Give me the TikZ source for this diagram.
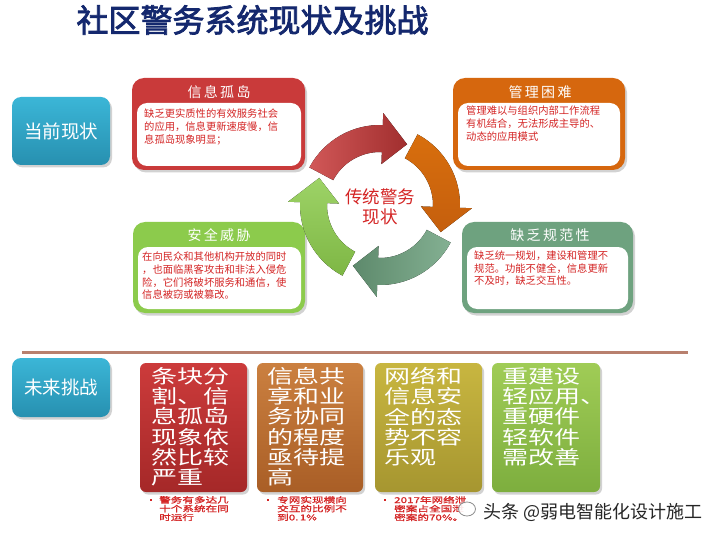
\documentclass[tikz,border=0pt]{standalone}
\usepackage{fontspec}
\usetikzlibrary{shadows,shapes.geometric}
\newfontfamily\cjk{Noto Sans CJK SC}
\newfontfamily\cjkbold[FakeBold=2.5]{Noto Sans CJK SC}
\newfontfamily\cjkwide[FakeStretch=1.37]{Noto Sans CJK SC}
\newfontfamily\cjknote[FakeStretch=1.45,FakeBold=1.2]{Noto Sans CJK SC}
\definecolor{navy}{HTML}{14286E}
\definecolor{tealT}{HTML}{3BB6D7}
\definecolor{tealB}{HTML}{2790B0}
\definecolor{sep}{HTML}{B8806E}
\definecolor{cRed}{HTML}{C93A3A}
\definecolor{cOrange}{HTML}{D6670E}
\definecolor{cLgreen}{HTML}{8CCB4C}
\definecolor{cGgreen}{HTML}{6EA27F}
\definecolor{txtRed}{HTML}{D42525}
\definecolor{bRedT}{HTML}{CC3B3B}
\definecolor{bRedB}{HTML}{A52828}
\definecolor{bOrT}{HTML}{CB8040}
\definecolor{bOrB}{HTML}{A95E26}
\definecolor{bOlT}{HTML}{C8B640}
\definecolor{bOlB}{HTML}{A69630}
\definecolor{bGrT}{HTML}{A0CC56}
\definecolor{bGrB}{HTML}{7DAE3E}
\newcommand\cyclearrow[2]{%
  \fill[#2] ({#1+86}:80) arc[start angle={#1+86}, end angle={#1+22}, radius=80]
    -- ({#1+22}:92) -- ({#1}:66.5) -- ({#1+22}:41) -- ({#1+22}:53)
    arc[start angle={#1+22}, end angle={#1+86}, radius=53] -- cycle;}
\begin{document}
\begin{tikzpicture}[x=1pt,y=-1pt,
  shad/.style={drop shadow={opacity=0.35,shadow xshift=2pt,shadow yshift=-2.5pt}},
  label/.style={shad,rounded corners=9pt,top color=tealT,bottom color=tealB,draw=none,
    inner sep=0pt,text=white,font=\cjk\fontsize{18.5}{20}\selectfont},
  infobox/.style={shad,rounded corners=12pt,draw=none,inner sep=0pt,minimum width=172pt,minimum height=92pt},
  innerbox/.style={rounded corners=10pt,fill=white,draw=none,inner sep=0pt},
  boxtitle/.style={text=white,font=\cjk\fontsize{14}{16}\selectfont,inner sep=0pt},
  boxtext/.style={anchor=north west,align=left,inner sep=0pt,text=txtRed,font=\cjk\fontsize{10.3}{12.8}\selectfont},
  bigbox/.style={shad,rounded corners=6pt,draw=none,inner sep=0pt,minimum height=129pt},
  bigtext/.style={anchor=north west,align=left,inner sep=0pt,text=white,font=\cjkwide\fontsize{19}{20.3}\selectfont},
  note/.style={anchor=north west,align=left,inner sep=0pt,text=txtRed,font=\cjknote\fontsize{8}{8.7}\selectfont},
  dot/.style={rectangle,fill=txtRed,inner sep=0pt,minimum size=2.6pt}]
\useasboundingbox (0,0) rectangle (722,537);
\fill[white] (0,0) rectangle (722,537);

% title
\node[text=navy,font=\cjkbold\fontsize{32}{34}\selectfont,inner sep=0pt] (title) at (252.5,20) {社区警务系统现状及挑战};

% left labels
\node[label,minimum width=98pt,minimum height=68pt] (now) at (61,131) {当前现状};
\node[label,minimum width=98pt,minimum height=59pt] (future) at (61,387.5) {未来挑战};

% separator
\coordinate (s1) at (22,352);
\coordinate (s2) at (688,352);
\draw[sep,line width=3pt] (s1) -- (s2);

% info boxes
\node[infobox,fill=cRed,minimum width=173pt] (b1) at (218.5,124) {};
\node[innerbox,minimum width=164pt,minimum height=63pt] (i1) at (219,134.5) {};
\node[boxtitle] (h1) at (219,92) {信\,息\,孤\,岛};
\node[boxtext] (t1) at (144,108.5) {缺乏更实质性的有效服务社会\\的应用，信息更新速度慢，信\\息孤岛现象明显；};

\node[infobox,fill=cOrange] (b2) at (539,124) {};
\node[innerbox,minimum width=162pt,minimum height=63pt] (i2) at (539,134.5) {};
\node[boxtitle] (h2) at (540,92) {管\,理\,困\,难};
\node[boxtext] (t2) at (466,106) {管理难以与组织内部工作流程\\有机结合，无法形成主导的、\\动态的应用模式};

\node[infobox,fill=cLgreen,minimum height=91pt] (b3) at (219,267.5) {};
\node[innerbox,minimum width=163pt,minimum height=62pt] (i3) at (219.5,278) {};
\node[boxtitle] (h3) at (219,235) {安\,全\,威\,胁};
\node[boxtext] (t3) at (142,251.5) {在向民众和其他机构开放的同时\\，也面临黑客攻击和非法入侵危\\险，它们将破坏服务和通信，使\\信息被窃或被篡改。};

\node[infobox,fill=cGgreen,minimum width=171pt,minimum height=91pt] (b4) at (547.5,267.5) {};
\node[innerbox,minimum width=161pt,minimum height=62pt] (i4) at (547.5,278) {};
\node[boxtitle] (h4) at (550,235) {缺\,乏\,规\,范\,性};
\node[boxtext] (t4) at (474,250.5) {缺乏统一规划，建设和管理不\\规范。功能不健全，信息更新\\不及时，缺乏交互性。};

% cycle
\begin{scope}[shift={(380,205)},yscale=-1]
  \cyclearrow{66}{left color=cRed!85!white,right color=cRed!80!black}
  \cyclearrow{-24}{top color=cOrange!95!yellow,bottom color=cOrange!92!black}
  \cyclearrow{-114}{right color=cGgreen!85!white,left color=cGgreen!85!black}
  \cyclearrow{156}{bottom color=cLgreen!90!black,top color=cLgreen!85!white}
\end{scope}
\node[align=center,text=txtRed,font=\cjk\fontsize{17.5}{20}\selectfont,inner sep=0pt] (center) at (380,207) {传统警务\\现状};

% challenge boxes
\node[bigbox,minimum width=107pt,top color=bRedT,bottom color=bRedB] (c1) at (193.5,427.5) {};
\node[bigtext] (ct1) at (151,367) {条块分\\割、信\\息孤岛\\现象依\\然比较\\严重};
\node[bigbox,minimum width=106pt,top color=bOrT,bottom color=bOrB] (c2) at (310,427.5) {};
\node[bigtext] (ct2) at (267,367) {信息共\\享和业\\务协同\\的程度\\亟待提\\高};
\node[bigbox,minimum width=107pt,top color=bOlT,bottom color=bOlB] (c3) at (428.5,427.5) {};
\node[bigtext] (ct3) at (384,367) {网络和\\信息安\\全的态\\势不容\\乐观};
\node[bigbox,minimum width=108pt,top color=bGrT,bottom color=bGrB] (c4) at (546,427.5) {};
\node[bigtext] (ct4) at (502,367) {重建设\\轻应用、\\重硬件\\轻软件\\需改善};

% notes
\node[dot] (d1) at (151,500) {};
\node[note] (n1) at (159,496) {警务有多达几\\十个系统在同\\时运行};
\node[dot] (d2) at (268,500) {};
\node[note] (n2) at (277,496) {专网实现横向\\交互的比例不\\到0.\,1\%};
\node[dot] (d3) at (385,500) {};
\node[note] (n3) at (394,496) {2017年网络泄\\密案占全国泄\\密案的70\%。};

% watermark
\node[fill=white,fill opacity=0.8,text opacity=1,text=black!85,inner sep=1pt,
  font=\cjk\fontsize{18}{20}\selectfont,anchor=west] (wm) at (482,512) {头条 @弱电智能化设计施工};
\node[draw=black!45,line width=0.8pt,ellipse,minimum width=17pt,minimum height=14pt,inner sep=0pt,
  fill=white,fill opacity=0.9] (icon) at (467,509) {};
\end{tikzpicture}
\end{document}
